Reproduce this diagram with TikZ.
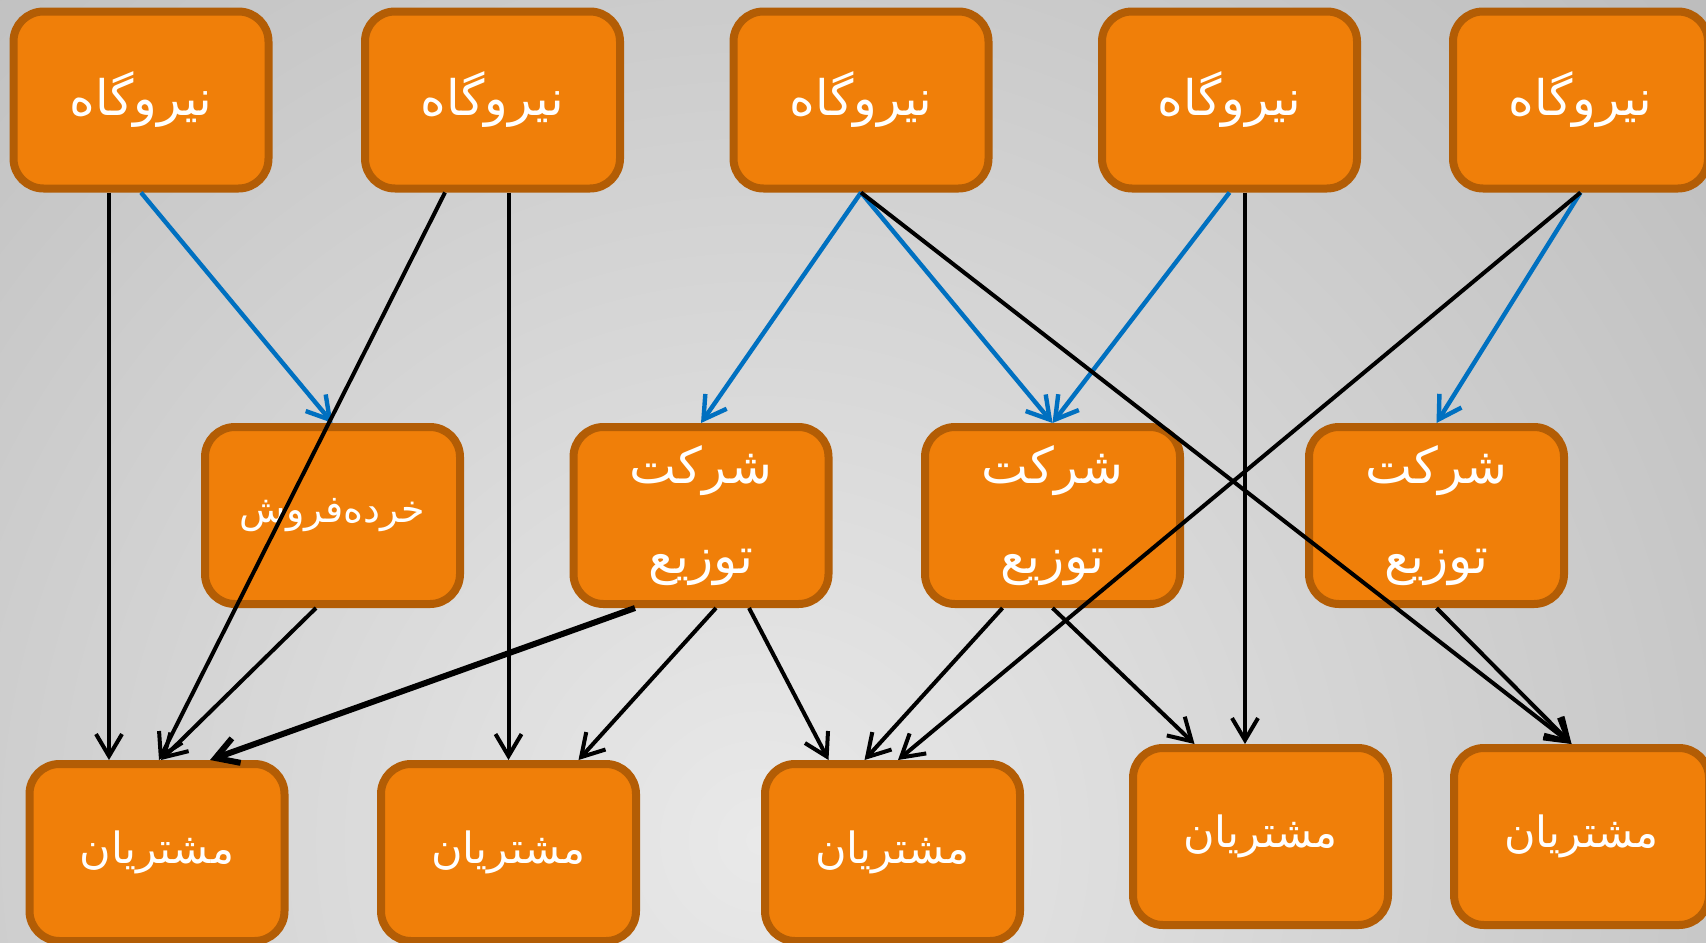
\documentclass[tikz,border=0pt]{standalone}
\usepackage{fontspec}
\TeXXeTstate=1
\newfontfamily\arabicfont[Script=Arabic]{DejaVu Sans}
\usetikzlibrary{arrows.meta,calc}
\definecolor{boxfill}{HTML}{F07F09}
\definecolor{boxline}{HTML}{B35D05}
\definecolor{linkblue}{HTML}{0070C0}
\definecolor{bglight}{HTML}{E9E9E9}
\definecolor{bgdark}{HTML}{A6A6A6}
\tikzset{
  box/.style={draw=boxline, fill=boxfill, line width=4pt, rounded corners=15pt,
    minimum width=127.5pt, minimum height=88.5pt, inner sep=0pt, text=white,
    font=\arabicfont\fontsize{24.5}{44}\selectfont, align=center},
  plantbox/.style={box},
  firmbox/.style={box, font=\arabicfont\fontsize{25}{45}\selectfont},
  shopbox/.style={box, font=\arabicfont\fontsize{19}{30}\selectfont},
  userbox/.style={box, font=\arabicfont\fontsize{21.5}{30}\selectfont},
  blkarrow/.style={draw=black, line width=2pt, -{Straight Barb[length=11pt,width=13pt]}},
  bluarrow/.style={draw=linkblue, line width=2.2pt, -{Straight Barb[length=11pt,width=13pt]}},
}
\begin{document}
\begin{tikzpicture}[x=0.5pt,y=-0.5pt]
\useasboundingbox (0,0) rectangle (1706,942);
\begin{scope}
  \clip (0,0) rectangle (1706,942);
  \shade[inner color=bglight, outer color=bgdark] (760,840) circle (960pt);
\end{scope}
% top row
\node[plantbox] (b1) at (141,100) {\beginR نیروگاه\endR};
\node[plantbox] (b2) at (492.5,100) {\beginR نیروگاه\endR};
\node[plantbox] (b3) at (861,100) {\beginR نیروگاه\endR};
\node[plantbox] (b4) at (1229.5,100) {\beginR نیروگاه\endR};
\node[plantbox] (b5) at (1580.5,100) {\beginR نیروگاه\endR};
% middle row
\node[shopbox] (m1) at (332.5,515.5) {\beginR خرده‌فروش\endR};
\node[firmbox] (m2) at (701,515.5) {\beginR شرکت\endR\\\beginR توزیع\endR};
\node[firmbox] (m3) at (1052.5,515.5) {\beginR شرکت\endR\\\beginR توزیع\endR};
\node[firmbox] (m4) at (1436.5,515.5) {\beginR شرکت\endR\\\beginR توزیع\endR};
% bottom row
\node[userbox] (c1) at (157,852.5) {\beginR مشتریان\endR};
\node[userbox] (c2) at (508.5,852.5) {\beginR مشتریان\endR};
\node[userbox] (c3) at (892.5,852.5) {\beginR مشتریان\endR};
\node[userbox] (c4) at (1260.5,836.5) {\beginR مشتریان\endR};
\node[userbox] (c5) at (1581.5,836.5) {\beginR مشتریان\endR};
% blue links
\draw[bluarrow] (b1.south) -- (m1.north);
\draw[bluarrow] (b3.south) -- (m2.north);
\draw[bluarrow] (b3.south) -- (m3.north);
\draw[bluarrow] (b4.south) -- (m3.north);
\draw[bluarrow] (b5.south) -- (m4.north);
% black links from power plants
\draw[blkarrow] ([xshift=-16pt]b1.south) -- ([xshift=-16pt]b1.south |- c1.north);
\draw[blkarrow] ([xshift=-23.75pt]b2.south) -- ([xshift=1pt]c1.north);
\draw[blkarrow] (c2.north |- b2.south) -- (c2.north);
\draw[blkarrow] (b3.south) -- ([xshift=-5pt]c5.north);
\draw[blkarrow] ([xshift=7.75pt]b4.south) -- ([xshift=7.75pt]b4.south |- c4.north);
\draw[blkarrow] (b5.south) -- ([xshift=2.75pt]c3.north);
% black links from middle row
\draw[blkarrow] ([xshift=-8.25pt]m1.south) -- ([xshift=2pt]c1.north);
\draw[blkarrow, line width=3pt] ([xshift=-33pt]m2.south) -- ([xshift=26.5pt]c1.north);
\draw[blkarrow] ([xshift=7.5pt]m2.south) -- ([xshift=35pt]c2.north);
\draw[blkarrow] ([xshift=24pt]m2.south) -- ([xshift=-32pt]c3.north);
\draw[blkarrow] ([xshift=-25pt]m3.south) -- ([xshift=-14pt]c3.north);
\draw[blkarrow] (m3.south) -- ([xshift=-33pt]c4.north);
\draw[blkarrow] (m4.south) -- ([xshift=-5pt]c5.north);
\end{tikzpicture}
\end{document}
